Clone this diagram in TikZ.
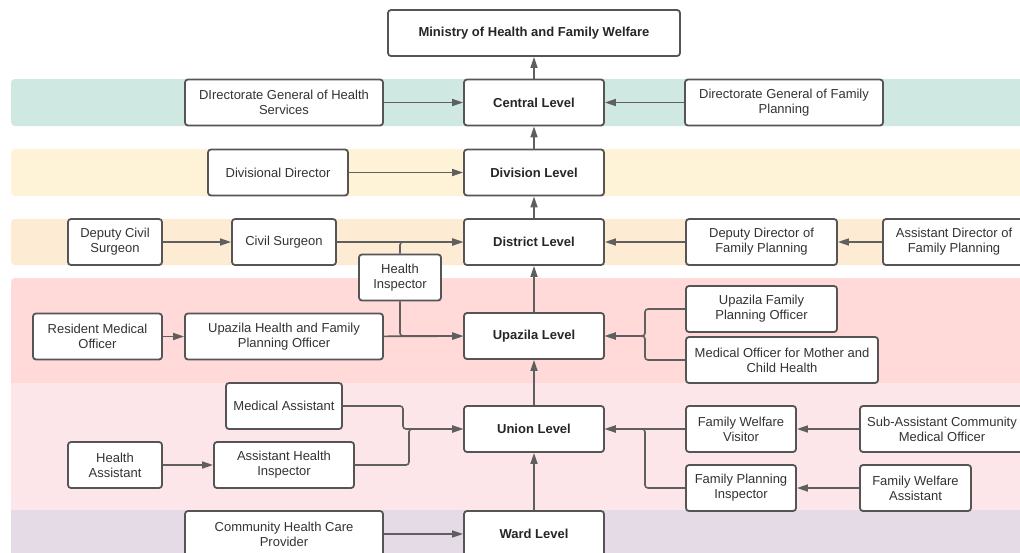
\documentclass[tikz,border=0pt]{standalone}
\usepackage{fontspec}
\setmainfont{Liberation Sans}
\usetikzlibrary{arrows.meta}
\definecolor{bandTeal}{RGB}{207,232,226}
\definecolor{bandDiv}{RGB}{254,243,214}
\definecolor{bandDist}{RGB}{253,235,212}
\definecolor{bandUpa}{RGB}{255,218,217}
\definecolor{bandUni}{RGB}{253,230,234}
\definecolor{bandWard}{RGB}{228,219,230}
\definecolor{edgecol}{RGB}{85,85,85}
\definecolor{linecol}{RGB}{95,95,95}
\tikzset{
  box/.style={draw=edgecol, line width=1.8pt, fill=white, rounded corners=3pt,
    align=center, inner sep=0pt, minimum height=46pt,
    font=\fontsize{13}{15}\selectfont, text=black!80},
  lvl/.style={box, minimum width=140pt, font=\fontsize{13}{15}\selectfont\bfseries, text=black!85},
  band/.style={rounded corners=4pt, draw=none},
  conn/.style={draw=linecol, line width=1.6pt, rounded corners=3pt,
    -{Triangle[length=11pt,width=7pt]}}
}
\begin{document}
\begin{tikzpicture}[x=1pt,y=-1pt]
\useasboundingbox (0,0) rectangle (1020,552);
\clip (0,0) rectangle (1020,552);
\fill[white] (0,0) rectangle (1020,552);
% bands
\fill[band, bandTeal] (11,79) rectangle (1040,126);
\fill[band, bandDiv] (11,149) rectangle (1040,196);
\fill[band, bandDist] (11,219) rectangle (1040,265);
\fill[band, bandUpa] (11,278) rectangle (1040,383);
\fill[band, bandUni] (11,383) rectangle (1040,510);
\fill[band, bandWard] (11,510) rectangle (1040,570);
\fill[bandUpa] (11,370) rectangle (1040,383);
\fill[bandUni] (11,383) rectangle (1040,395);
\fill[bandUni] (11,500) rectangle (1040,510);
\fill[bandWard] (11,510) rectangle (1040,520);

% level column
\node[lvl, minimum width=292pt] (ministry) at (534,33) {Ministry of Health and Family Welfare};
\node[lvl] (central) at (534,102.5) {Central Level};
\node[lvl] (division) at (534,172.5) {Division Level};
\node[lvl] (district) at (534,242) {District Level};
\node[lvl] (upazila) at (534,336) {Upazila Level};
\node[lvl] (union) at (534,429) {Union Level};
\node[lvl] (ward) at (534,534) {Ward Level};

% central row
\node[box, minimum width=198pt] (dghs) at (284,102.5) {DIrectorate General of Health\\Services};
\node[box, minimum width=198pt] (dgfp) at (784,102.5) {Directorate General of Family\\Planning};
% division row
\node[box, minimum width=140pt] (divdir) at (278,172.5) {Divisional Director};
% district row
\node[box, minimum width=94pt] (dcs) at (115,242) {Deputy Civil\\Surgeon};
\node[box, minimum width=104pt] (cs) at (284,242) {Civil Surgeon};
\node[box, minimum width=82pt] (hi) at (400,277.5) {Health\\Inspector};
\node[box, minimum width=151pt] (ddfp) at (761.5,242) {Deputy Director of\\Family Planning};
\node[box, minimum width=142pt] (adfp) at (954,242) {Assistant Director of\\Family Planning};
% upazila row
\node[box, minimum width=129pt] (rmo) at (97.5,336.5) {Resident Medical\\Officer};
\node[box, minimum width=198pt] (uhfpo) at (284,336.5) {Upazila Health and Family\\Planning Officer};
\node[box, minimum width=151pt] (ufpo) at (761.5,309) {Upazila Family\\Planning Officer};
\node[box, minimum width=192pt] (momch) at (782,360) {Medical Officer for Mother and\\Child Health};
% union row
\node[box, minimum width=116pt] (ma) at (284,406) {Medical Assistant};
\node[box, minimum width=94pt] (ha) at (115,465) {Health\\Assistant};
\node[box, minimum width=140pt] (ahi) at (284,465) {Assistant Health\\Inspector};
\node[box, minimum width=110pt] (fwv) at (741,429) {Family Welfare\\Visitor};
\node[box, minimum width=164pt] (sacmo) at (942,429) {Sub-Assistant Community\\Medical Officer};
\node[box, minimum width=110pt] (fpi) at (741,488) {Family Planning\\Inspector};
\node[box, minimum width=111pt] (fwa) at (915.5,488) {Family Welfare\\Assistant};
% ward row
\node[box, minimum width=198pt] (chcp) at (284,534) {Community Health Care\\Provider};

% vertical chain
\draw[conn] (central) -- (ministry);
\draw[conn] (division) -- (central);
\draw[conn] (district) -- (division);
\draw[conn] (upazila) -- (district);
\draw[conn] (union) -- (upazila);
\draw[conn] (ward) -- (union);

% horizontal
\draw[conn] (dghs) -- (central);
\draw[conn] (dgfp) -- (central);
\draw[conn] (divdir) -- (division);
\draw[conn] (dcs) -- (cs);
\draw[conn] (cs) -- (district);
\draw[conn] (hi.north) |- (district.west);
\draw[conn] (adfp) -- (ddfp);
\draw[conn] (ddfp) -- (district);
\draw[conn] (rmo) -- (uhfpo);
\draw[conn] (uhfpo) -- (upazila);
\draw[conn] (hi.south) |- (upazila.west);

\coordinate (jup) at (645,336);
\draw[conn] (ufpo.west) -| (jup) -- (upazila.east);
\draw[conn] (momch.west) -| (jup) -- (upazila.east);

\coordinate (jma) at (403,429);
\coordinate (jahi) at (409,429);
\draw[conn] (ma.east) -| (jma) -- (union.west);
\draw[conn] (ahi.east) -| (jahi) -- (union.west);
\draw[conn] (ha) -- (ahi);

\coordinate (jun) at (645,429);
\draw[conn] (fwv) -- (union);
\draw[conn] (fpi.west) -| (jun) -- (union.east);
\draw[conn] (sacmo) -- (fwv);
\draw[conn] (fwa) -- (fpi);

\draw[conn] (chcp) -- (ward);
\end{tikzpicture}
\end{document}
